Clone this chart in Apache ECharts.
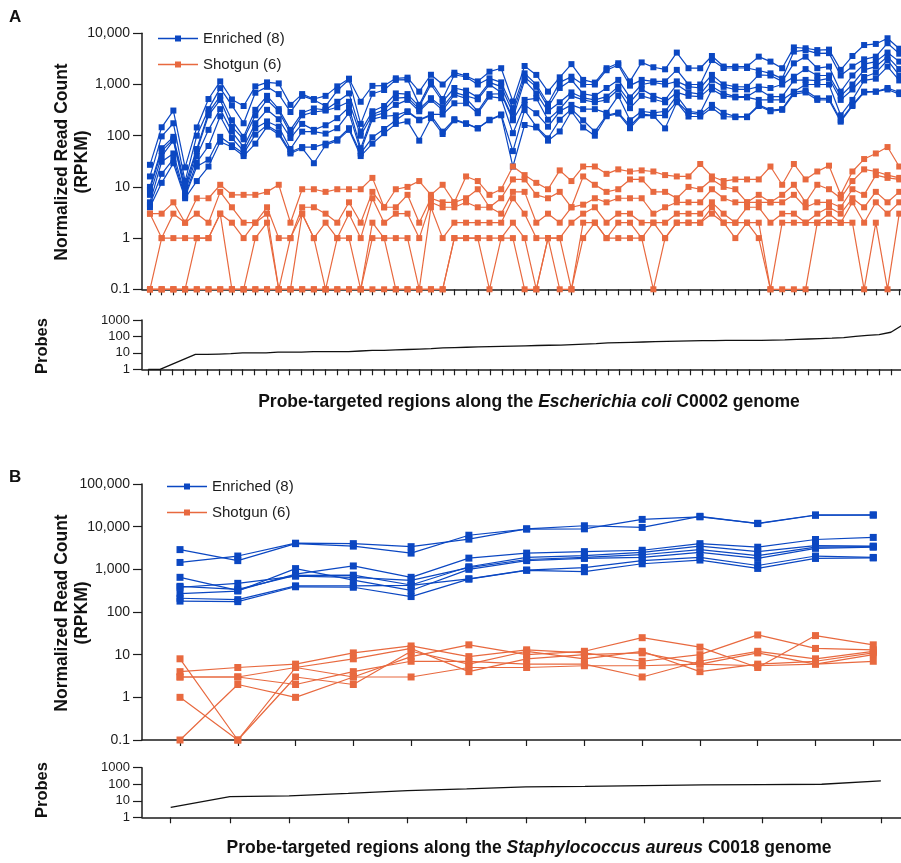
<!DOCTYPE html>
<html><head><meta charset="utf-8">
<script src="https://cdn.jsdelivr.net/npm/echarts@6/dist/echarts.min.js"></script>
<style>html,body{margin:0;padding:0;background:#fff}#c{width:901px;height:863px}</style>
</head><body><div id="c"></div><script>
// ---------- Panel A : Escherichia coli C0002 (65 probe-targeted regions) ----------
const aEnriched1 = [27,146,310,24,145,520,1150,510,380,920, 1100,1050,400,650,520,600,920,1300,460,940, 950,1320,1360,725,1550,1000,1700,1470,1150,1780, 2080,465,2300,1540,725,1380,2500,1230,1090,2080, 2600,1150,2700,2170,1980,4200,2080,2080,3600,2240, 2240,2240,3500,2800,2080,5300,5100,4700,4800,1930, 3600,5900,6200,8000,5000];
const aEnriched2 = [16,97,175,13,100,330,850,390,175,690, 900,650,290,600,500,380,760,1250,170,660, 780,1230,1250,400,1150,520,1550,1400,1000,1320, 1100,345,1650,1000,420,1100,1420,1000,1000,1900, 2400,950,1230,1150,1150,1930,1000,1000,3000,2100, 2100,2100,1880,1650,1300,4400,4700,4060,4100,1500, 2240,3100,3500,6400,4000];
const aEnriched3 = [10,57,95,11,55,280,600,200,95,320, 600,330,130,280,340,320,460,670,120,300, 380,670,650,370,1000,465,855,760,560,1100, 910,280,1380,900,360,855,1230,660,600,855, 1230,560,1000,1100,1000,1150,910,855,1540,1000, 910,900,1540,1500,1150,2590,3500,2080,2240,725, 1500,2500,2800,4200,2800];
const aEnriched4 = [9,50,85,9,50,250,500,150,85,250, 500,300,110,250,290,310,360,460,100,260, 320,540,560,330,540,360,700,600,515,1000, 700,218,1200,670,300,450,700,550,500,580, 910,450,810,600,500,1000,700,650,1230,900, 800,800,910,855,1000,1420,2000,1500,1500,600, 1000,1930,2240,3500,2000];
const aEnriched5 = [7,40,80,8,40,130,330,120,60,175, 320,210,90,170,130,160,220,360,57,240, 280,400,500,300,500,316,630,537,300,650, 660,200,500,537,205,330,600,500,450,500, 800,345,600,515,450,700,600,580,910,670, 580,580,800,580,580,1200,1230,1190,1320,500, 800,1400,1700,3000,1500];
const aEnriched6 = [5,31,45,7,30,63,240,90,50,140, 190,150,55,120,120,110,140,280,50,210, 240,250,300,205,260,260,430,430,275,580, 540,112,400,275,150,300,400,330,330,280, 600,200,300,280,300,600,300,280,800,600, 560,560,500,500,500,725,1000,1000,1000,250, 500,1200,1300,2240,1200];
const aEnriched7 = [4.5,18,35,6.5,25,34,95,65,45,105, 160,115,48,60,60,70,85,140,45,93, 135,200,290,200,250,120,210,175,140,205, 260,50,316,150,89,205,330,200,120,250, 283,155,263,250,250,465,280,260,400,280, 237,237,400,316,330,700,760,537,537,200, 400,725,725,855,700];
const aEnriched8 = [4,12,29,6,13,25,76,60,40,70, 150,105,45,57,29,65,80,130,40,70, 112,170,190,80,220,108,200,170,139,200, 250,25,162,145,80,121,300,145,100,240, 270,140,250,245,139,450,237,237,350,237, 230,230,380,300,320,650,700,500,500,188, 380,700,725,800,650];

const aShotgun1 = [3,3,5,2,6,6,11,7,7,7, 8,11,2,9,9,8,9,9,9,15, 4,9,10,13,7,11,5,16,13,7, 9,25,17,12,9,21,13,25,25,18, 22,20,21,20,17,16,16,28,16,13, 14,14,14,25,11,28,14,20,26,7, 20,35,45,60,25];
const aShotgun2 = [3,1,3,2,3,2,8,4,2,2, 4,1,1,4,4,3,2,5,2,8, 4,4,7,2,6,5,5,6,9,4, 6,14,14,7,6,8,4,16,11,8, 9,14,14,8,8,6,10,9,14,10, 9,5,7,5,7,11,5,11,9,6, 13,22,20,17,15];
const aShotgun3 = [0.1,1,1,1,1,1,3,2,1,2, 3,0.1,1,3,1,2,1,3,1,6, 2,3,3,1,5,4,4,5,4,4, 3,8,8,2,3,2,4,4.5,6,5, 6,6,6,3,4,5,5,5,9,6, 5,5,5,5,5,7,4,5,5,4, 9,7,17,15,14];
const aShotgun4 = [0.1,0.1,0.1,0.1,1,1,3,0.1,0.1,1, 2,0.1,0.1,3,1,0.1,1,1,0.1,2, 1,1,1,0.1,4,1,2,2,2,2, 2,6,3,1,1,1,2,3,4,2, 3,3,2,2,2,3,3,3,5,3, 2,4,4,2,3,3,2,3,4,3, 6,4,8,5,8];
const aShotgun5 = [0.1,0.1,0.1,0.1,0.1,0.1,0.1,0.1,0.1,0.1, 0.1,0.1,0.1,0.1,0.1,0.1,0.1,0.1,0.1,1, 1,0.1,0.1,0.1,0.1,0.1,1,1,1,1, 1,2,1,0.1,1,1,0.1,2,2,1, 2,2,1,2,1,2,2,2,4,2, 2,2,2,0.1,2,2,2,2,3,2, 5,2,5,3,5];
const aShotgun6 = [0.1,0.1,0.1,0.1,0.1,0.1,0.1,0.1,0.1,0.1, 0.1,0.1,0.1,0.1,0.1,0.1,0.1,0.1,0.1,0.1, 0.1,0.1,0.1,0.1,0.1,0.1,1,1,1,0.1, 1,1,0.1,0.1,1,0.1,0.1,1,2,1, 1,1,1,0.1,1,2,2,2,3,2, 1,2,1,0.1,0.1,0.1,0.1,2,2,2, 2,0.1,2,0.1,3];

const aProbes = [1,1,2,4,8,8,8.5,9,10,10, 10,11,11,11,12,12,12,12,13,14, 14,15,16,17,18,20,21,22,23,24, 25,26,27,28,29,30,32,34,36,40, 42,44,46,48,50,52,54,55,56,57, 57,58,58,60,62,66,70,74,78,85, 100,115,130,180,500];

// ---------- Panel B : Staphylococcus aureus C0018 (13 probe-targeted regions) ----------
const bEnriched1 = [2900,1600,4000,3500,2400,6300,8800,8900,14800,17000,12000,18800,18700];
const bEnriched2 = [1450,2050,4100,4000,3400,5100,8900,10500,9600,17500,11800,18500,18800];
const bEnriched3 = [650,320,770,1200,650,1830,2400,2600,2800,4000,3300,5000,5600];
const bEnriched4 = [400,340,720,730,430,1150,1900,2100,2500,3500,2600,3600,3500];
const bEnriched5 = [380,470,690,650,550,1100,1700,1900,2200,2900,2100,3300,3400];
const bEnriched6 = [270,310,1040,560,320,1000,1600,1800,1900,2500,1800,3100,3300];
const bEnriched7 = [210,195,410,410,420,600,960,1100,1600,1900,1230,2050,1900];
const bEnriched8 = [180,175,390,380,230,590,950,880,1350,1650,1050,1800,1850];

const bShotgun1 = [8,0.1,5,3,9,17,10,12,25,15,5,28,17];
const bShotgun2 = [4,5,6,11,16,9,13,11,7,10,29,14,13];
const bShotgun3 = [3,3,5,8,14,4,8,10,11,6,11,6,10];
const bShotgun4 = [3,3,2,4,7,7,6,6,3,7,12,8,12];
const bShotgun5 = [1,0.1,3,2,12,6,12,8,12,4,6,7,11];
const bShotgun6 = [0.1,2,1,3,3,5,5,5.5,5.5,6,5.5,6,7];

const bProbes = [4,18,20,28,41,52,69,75,83,91,95,100,158];

const legendNames = ['Enriched (8)', 'Shotgun (6)'];

// ---------- build ----------
const FONT = "'Liberation Sans', Arial, Helvetica, sans-serif";
const BLUE = '#0B47C2', ORANGE = '#E8693F', INK = '#1c1c1c';
const range = n => Array.from({length: n}, (_, i) => i);
const pts = arr => arr.map((v, i) => [i, v]);
const fmtComma = v => { const n = +(+v).toPrecision(3); return n >= 1 ? n.toLocaleString('en-US') : String(n); };
const fmtPlain = v => String(+(+v).toPrecision(3));

const grid = [
  {left: 142, top: 33.3, width: 763, height: 256},
  {left: 142, top: 320, width: 763, height: 49.3},
  {left: 142, top: 484, width: 759, height: 256},
  {left: 142, top: 767.7, width: 759, height: 49.6}
];
function xAx(gi, min, max, n) {
  return {type: 'value', gridIndex: gi, min, max,
    axisLine: {show: true, onZero: false, lineStyle: {color: INK, width: 1.5}},
    axisTick: {show: true, length: 6, customValues: range(n), lineStyle: {color: INK, width: 1.2}},
    axisLabel: {show: false}, splitLine: {show: false}};
}
function yAx(gi, min, max, fs, formatter) {
  return {type: 'log', logBase: 10, gridIndex: gi, min, max,
    axisLine: {show: true, onZero: false, lineStyle: {color: INK, width: 1.5}},
    axisTick: {show: true, length: 9, lineStyle: {color: INK, width: 1.2}},
    minorTick: {show: false}, splitLine: {show: false},
    axisLabel: {margin: 12, color: INK, fontSize: fs, fontFamily: FONT, formatter}};
}
const series = [];
function addSet(list, name, color, gi, size) {
  list.forEach(arr => series.push({type: 'line', name, xAxisIndex: gi, yAxisIndex: gi,
    data: pts(arr), symbol: 'rect', symbolSize: size, showSymbol: true,
    lineStyle: {color, width: 1.2}, itemStyle: {color}, emphasis: {disabled: true}}));
}
addSet([aEnriched1,aEnriched2,aEnriched3,aEnriched4,aEnriched5,aEnriched6,aEnriched7,aEnriched8], legendNames[0], BLUE, 0, 6);
addSet([aShotgun1,aShotgun2,aShotgun3,aShotgun4,aShotgun5,aShotgun6], legendNames[1], ORANGE, 0, 6);
addSet([bEnriched1,bEnriched2,bEnriched3,bEnriched4,bEnriched5,bEnriched6,bEnriched7,bEnriched8], legendNames[0], BLUE, 2, 7);
addSet([bShotgun1,bShotgun2,bShotgun3,bShotgun4,bShotgun5,bShotgun6], legendNames[1], ORANGE, 2, 7);
[[aProbes, 1], [bProbes, 3]].forEach(([arr, gi]) => series.push({type: 'line', name: 'Probes', xAxisIndex: gi, yAxisIndex: gi,
  data: pts(arr), showSymbol: false, symbol: 'none', lineStyle: {color: '#111', width: 1.3}, emphasis: {disabled: true}}));

// legend icon: thin line with a small square marker in the middle (40 x 14 box)
const LEG_ICON = 'path://M0,6.25H40V7.75H0Z M17,4H23V10H17Z';
const legendBase = {orient: 'vertical', itemWidth: 40, itemHeight: 14, itemGap: 11,
  selectedMode: false, icon: LEG_ICON, textStyle: {fontSize: 15, color: INK, fontFamily: FONT},
  data: legendNames.map(name => ({name, icon: LEG_ICON}))};

const titleFont = {fontFamily: FONT, fontWeight: 'bold', fontSize: 17.5, fill: '#111'};
function vText(text, x, y, size) {
  return {type: 'text', x, y, rotation: Math.PI / 2, silent: true,
    style: Object.assign({text, align: 'center', verticalAlign: 'middle', lineHeight: 20}, titleFont, {fontSize: size})};
}
function xName(species, x, y) {
  return {type: 'text', x, y, silent: true,
    style: Object.assign({text: 'Probe-targeted regions along the {it|' + species[0] + '} ' + species[1] + ' genome',
      align: 'center', verticalAlign: 'middle',
      rich: {it: {fontStyle: 'italic', fontWeight: 'bold', fontSize: 17.5, fontFamily: FONT, fill: '#111'}}}, titleFont)};
}

const option = {
  animation: false,
  backgroundColor: '#fff',
  grid,
  xAxis: [xAx(0, -0.68, 64.15, 65), xAx(1, -0.53, 63.86, 64), xAx(2, -0.658, 12.48, 13), xAx(3, -0.485, 12.34, 13)],
  yAxis: [yAx(0, 0.1, 10000, 14, fmtComma), yAx(1, 1, 1000, 13, fmtPlain), yAx(2, 0.1, 100000, 14, fmtComma), yAx(3, 1, 1000, 13, fmtPlain)],
  legend: [Object.assign({left: 153, top: 26}, legendBase), Object.assign({left: 162, top: 474}, legendBase)],
  series,
  graphic: [
    {type: 'text', x: 9, y: 9, silent: true, style: {text: 'A', fontFamily: FONT, fontWeight: 'bold', fontSize: 17, fill: '#111'}},
    {type: 'text', x: 9, y: 469, silent: true, style: {text: 'B', fontFamily: FONT, fontWeight: 'bold', fontSize: 17, fill: '#111'}},
    vText('Normalized Read Count\n(RPKM)', 72, 162, 17.5),
    vText('Normalized Read Count\n(RPKM)', 72, 613, 17.5),
    vText('Probes', 42, 346, 16.5),
    vText('Probes', 42, 790, 16.5),
    xName(['Escherichia coli', 'C0002'], 529, 402),
    xName(['Staphylococcus aureus', 'C0018'], 529, 848)
  ]
};
const chart = echarts.init(document.getElementById('c'), null, {renderer: 'canvas', width: 901, height: 863});
chart.setOption(option);
</script></body></html>
